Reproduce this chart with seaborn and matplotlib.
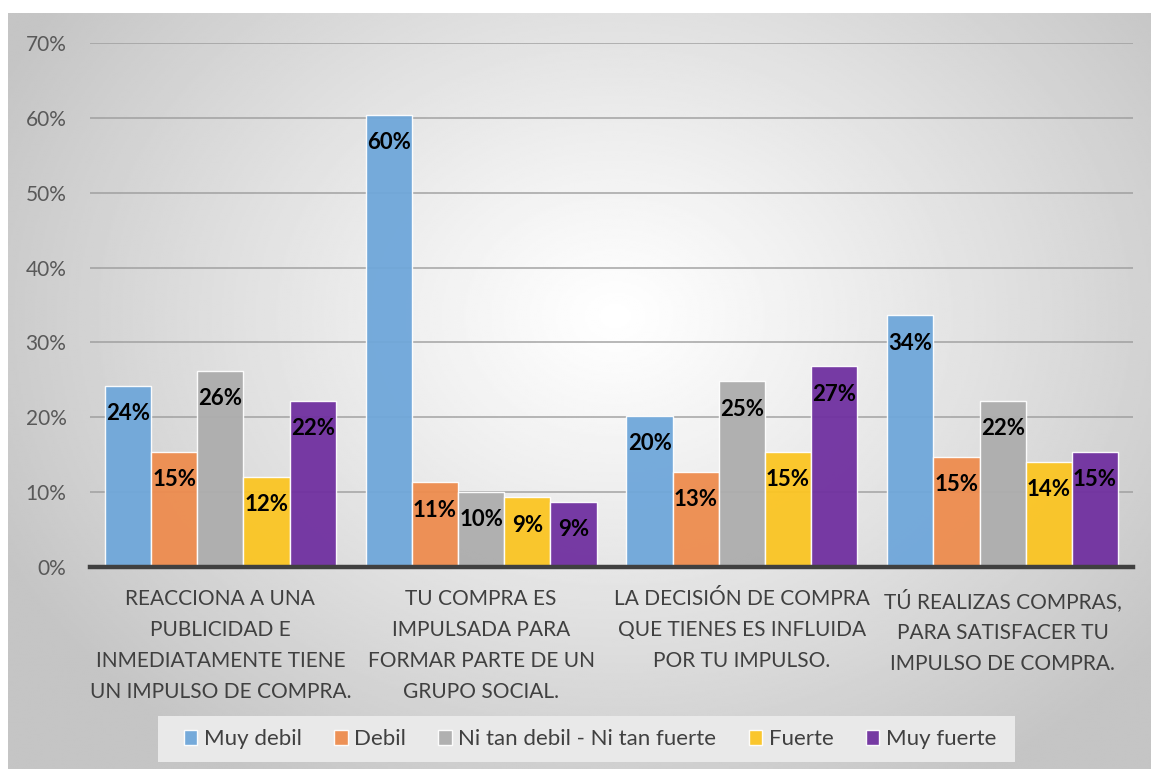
import numpy as np
import pandas as pd
import matplotlib
matplotlib.use("Agg")
import matplotlib.pyplot as plt
from matplotlib.patches import Rectangle
import seaborn as sns

# Survey items (x categories)
categories = [
    "REACCIONA A UNA\nPUBLICIDAD E\nINMEDIATAMENTE TIENE\nUN IMPULSO DE COMPRA.",
    "TU COMPRA ES\nIMPULSADA PARA\nFORMAR PARTE DE UN\nGRUPO SOCIAL.",
    "LA DECISIÓN DE COMPRA\nQUE TIENES ES INFLUIDA\nPOR TU IMPULSO.",
    "TÚ REALIZAS COMPRAS,\nPARA SATISFACER TU\nIMPULSO DE COMPRA.",
]
levels = ["Muy debil", "Debil", "Ni tan debil - Ni tan fuerte", "Fuerte", "Muy fuerte"]

# Share of respondents per level, one list per level (fractions)
muy_debil = [0.242, 0.604, 0.202, 0.336]
debil = [0.154, 0.113, 0.127, 0.147]
ni_tan = [0.262, 0.100, 0.248, 0.222]
fuerte = [0.120, 0.093, 0.154, 0.140]
muy_fuerte = [0.222, 0.087, 0.268, 0.154]

yticks = [0, 0.1, 0.2, 0.3, 0.4, 0.5, 0.6, 0.7]
ytick_labels = ["0%", "10%", "20%", "30%", "40%", "50%", "60%", "70%"]

colors = ["#6FA7DA", "#EE8C4E", "#ADADAD", "#FBC523", "#7030A0"]

series = [muy_debil, debil, ni_tan, fuerte, muy_fuerte]
df = pd.DataFrame(
    [(c, lvl, v) for lvl, vals in zip(levels, series) for c, v in zip(categories, vals)],
    columns=["item", "nivel", "valor"],
)

sns.set_theme(style="white")
plt.rcParams["font.family"] = ["Lato", "DejaVu Sans"]

W, H = 1151, 769
fig = plt.figure(figsize=(W / 100, H / 100), dpi=100)
fig.patch.set_facecolor("white")

# Radial grey-to-white backdrop behind the chart
bg = fig.add_axes([8 / W, 0, 1 - 8 / W, 1 - 13 / H], zorder=-10)
ny, nx = 380, 570
yy, xx = np.mgrid[0:ny, 0:nx]
cx, cy = nx * 0.53, ny * 0.40
r = np.sqrt(((xx - cx) / (nx * 0.60)) ** 2 + ((yy - cy) / (ny * 0.72)) ** 2)
r = np.clip(r, 0, 1)
shade = 1.0 - 0.23 * r ** 1.1
bg.imshow(shade, cmap="gray", vmin=0, vmax=1, aspect="auto", interpolation="bilinear")
bg.set_axis_off()

ax = fig.add_axes([90 / W, 1 - 567 / H, (1133 - 90) / W, (567 - 43) / H])
ax.patch.set_alpha(0)

sns.barplot(
    data=df, x="item", y="valor", hue="nivel", hue_order=levels,
    palette=colors, saturation=1, width=0.885, gap=0, ax=ax, errorbar=None,
    alpha=0.95, edgecolor=(1, 1, 1, 0.6), linewidth=1.0, legend=True, zorder=3,
)

ax.set_ylim(0, 0.7)
ax.set_xlim(-0.5, 3.5)
ax.set_yticks(yticks)
ax.set_yticklabels(ytick_labels, fontsize=15, color="#595959")
ax.tick_params(axis="y", length=0, pad=17)
ax.tick_params(axis="x", length=0, pad=16, labelsize=15, labelcolor="#404040")
for lbl in ax.get_xticklabels():
    lbl.set_linespacing(1.68)
ax.set_xlabel("")
ax.set_ylabel("")
ax.yaxis.grid(True, color="#9a9a9a", linewidth=1.4, alpha=0.7, zorder=0)
ax.set_axisbelow(True)
for s in ["top", "right", "left"]:
    ax.spines[s].set_visible(False)
ax.spines["bottom"].set_color("#404040")
ax.spines["bottom"].set_linewidth(3.2)
ax.spines["bottom"].set_zorder(5)

# Value labels inside each bar near its top
for cont in ax.containers:
    for bar in cont:
        h = bar.get_height()
        ax.annotate(
            f"{h * 100:.0f}%",
            (bar.get_x() + bar.get_width() / 2, h),
            xytext=(0, -20), textcoords="offset points",
            ha="center", va="center", fontsize=16, fontweight="bold",
            color="black", zorder=6,
        )

# Legend panel and entries
fig.patches.append(Rectangle(
    (158 / W, 1 - 762 / H), (1015 - 158) / W, 46 / H,
    transform=fig.transFigure, facecolor="#e9e9e9", edgecolor="none", zorder=1,
))
leg = ax.get_legend()
handles = leg.legend_handles
leg.remove()
fig.legend(
    handles, levels, loc="center", bbox_to_anchor=(590 / W, 1 - 739 / H),
    ncol=5, frameon=False, fontsize=16, handlelength=0.6, handleheight=0.65,
    handletextpad=0.3, columnspacing=1.45, borderpad=0.2,
    labelcolor="#404040",
)

fig.savefig("out.png", dpi=100)
